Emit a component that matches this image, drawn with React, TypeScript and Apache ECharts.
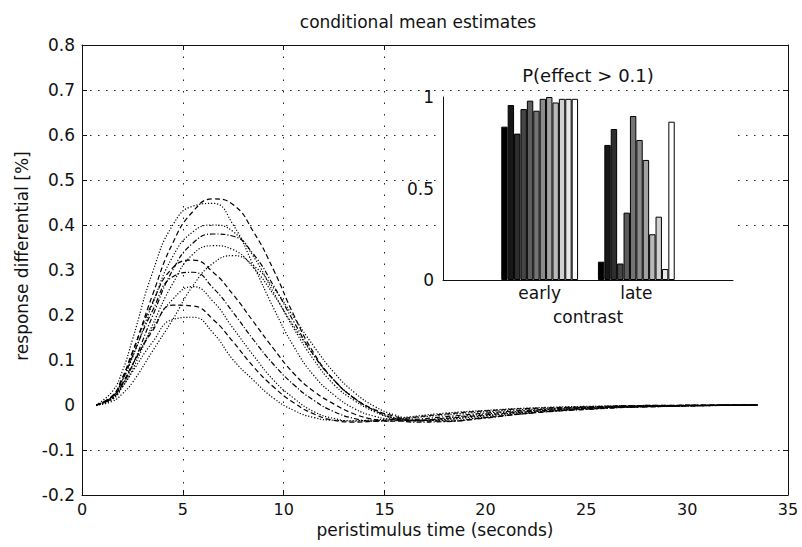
import { useEffect, useRef } from "react";
import * as echarts from "echarts";

// ---- main panel: conditional mean estimates (peristimulus time in seconds) ----
const timeSec = [0.7, 1.5, 2.0, 2.5, 3.5, 4.5, 5.5, 6.5, 7.5, 8.5, 9.5, 10.5, 11.5, 12.5, 13.5, 14.5, 15.5, 16.5, 18, 20, 22, 25, 28, 33.5];

const curve1 = [0, 0.03, 0.075, 0.145, 0.295, 0.4, 0.442, 0.448, 0.4, 0.31, 0.215, 0.13, 0.065, 0.022, -0.008, -0.025, -0.032, -0.034, -0.029, -0.02, -0.013, -0.006, -0.002, 0];
const curve2 = [0, 0.02, 0.06, 0.115, 0.245, 0.36, 0.43, 0.458, 0.445, 0.385, 0.3, 0.2, 0.115, 0.055, 0.015, -0.01, -0.025, -0.035, -0.036, -0.028, -0.019, -0.009, -0.004, 0];
const curve3 = [0, 0.018, 0.055, 0.105, 0.225, 0.33, 0.385, 0.4, 0.385, 0.33, 0.25, 0.17, 0.1, 0.045, 0.01, -0.015, -0.03, -0.035, -0.032, -0.024, -0.016, -0.008, -0.003, 0];
const curve4 = [0, 0.015, 0.045, 0.088, 0.198, 0.3, 0.36, 0.38, 0.375, 0.335, 0.265, 0.185, 0.11, 0.055, 0.015, -0.012, -0.03, -0.038, -0.037, -0.029, -0.019, -0.01, -0.004, 0];
const curve5 = [0, 0.012, 0.04, 0.078, 0.178, 0.27, 0.335, 0.354, 0.345, 0.305, 0.245, 0.175, 0.11, 0.055, 0.015, -0.012, -0.028, -0.034, -0.032, -0.024, -0.016, -0.008, -0.003, 0];
const curve6 = [0, 0.008, 0.025, 0.05, 0.12, 0.19, 0.265, 0.315, 0.332, 0.31, 0.26, 0.195, 0.13, 0.072, 0.028, -0.003, -0.022, -0.032, -0.034, -0.027, -0.018, -0.009, -0.004, 0];
const curve7 = [0, 0.02, 0.06, 0.118, 0.228, 0.305, 0.322, 0.295, 0.245, 0.185, 0.125, 0.07, 0.03, 0.002, -0.02, -0.032, -0.036, -0.035, -0.03, -0.022, -0.015, -0.007, -0.003, 0];
const curve8 = [0, 0.018, 0.055, 0.108, 0.21, 0.285, 0.295, 0.26, 0.205, 0.145, 0.09, 0.045, 0.01, -0.015, -0.03, -0.036, -0.035, -0.032, -0.026, -0.018, -0.012, -0.005, -0.002, 0];
const curve9 = [0, 0.015, 0.045, 0.088, 0.17, 0.235, 0.263, 0.23, 0.17, 0.11, 0.055, 0.015, -0.015, -0.03, -0.036, -0.035, -0.032, -0.028, -0.022, -0.015, -0.01, -0.005, -0.002, 0];
const curve10 = [0, 0.018, 0.048, 0.09, 0.165, 0.222, 0.22, 0.19, 0.14, 0.085, 0.04, 0.005, -0.02, -0.034, -0.038, -0.036, -0.032, -0.027, -0.02, -0.013, -0.008, -0.004, -0.001, 0];
const curve11 = [0, 0.015, 0.04, 0.074, 0.14, 0.19, 0.195, 0.16, 0.1, 0.055, 0.015, -0.012, -0.028, -0.034, -0.035, -0.033, -0.03, -0.025, -0.018, -0.012, -0.007, -0.003, -0.001, 0];

const curves = [curve1, curve2, curve3, curve4, curve5, curve6, curve7, curve8, curve9, curve10, curve11];
const curveDash = ["dotted", "dashed", "dotted", "dashdot", "dotted", "dotted", "dashed", "dashdot", "dotted", "dashed", "dotted"];

const gridLineY = [0.7, 0.6, 0.5, 0.4, -0.1];
const gridLineX = [5, 10, 15];

// ---- inset: P(effect > 0.1) ----
const insetCategories = ["", "early", "late", ""];
const earlyProb = [0.838, 0.956, 0.8, 0.934, 0.98, 0.925, 0.99, 1.0, 0.97, 0.99, 0.99, 0.99];
const lateProb = [0.1, 0.738, 0.825, 0.09, 0.368, 0.896, 0.765, 0.656, 0.25, 0.346, 0.06, 0.865];
const barGrays = ["#000000", "#171717", "#2e2e2e", "#464646", "#5d5d5d", "#747474", "#8b8b8b", "#a2a2a2", "#b9b9b9", "#d1d1d1", "#e8e8e8", "#ffffff"];

const FONT = "DejaVu Sans";
const INK = "#111111";

export default function App() {
  const ref = useRef<HTMLDivElement>(null);

  useEffect(() => {
    if (!ref.current) return;
    const chart = echarts.init(ref.current, null, { renderer: "svg" });

    const dashMap: Record<string, number[]> = {
      dotted: [1.2, 1.8],
      dashed: [5, 3],
      dashdot: [5, 2, 1.2, 2],
    };

    const lineSeries: any[] = curves.map((vals, i) => {
      const s: any = {
        type: "line",
        xAxisIndex: 0,
        yAxisIndex: 0,
        data: timeSec.map((t, j) => [t, vals[j]]),
        showSymbol: false,
        symbol: "none",
        smooth: 0.5,
        silent: true,
        z: 2,
        lineStyle: { color: "#000", width: 1.2, type: dashMap[curveDash[i]] },
      };
      if (i === 0) {
        s.markLine = {
          silent: true,
          z: 1,
          symbol: ["none", "none"],
          label: { show: false },
          data: [
            ...gridLineY.map((v) => ({ yAxis: v, lineStyle: { type: [1.5, 6.5], color: "#222", width: 1 } })),
            ...gridLineX.map((v) => ({ xAxis: v, lineStyle: { type: [1.5, 10], color: "#222", width: 1 } })),
          ],
        };
      }
      return s;
    });

    const barSeries: any[] = barGrays.map((c, i) => ({
      type: "bar",
      xAxisIndex: 2,
      yAxisIndex: 2,
      barWidth: 6.4,
      barGap: "0%",
      z: 10,
      silent: true,
      data: ["-", earlyProb[i], lateProb[i], "-"],
      itemStyle: { color: c, borderColor: "#000", borderWidth: 1 },
    }));

    const axisLine = { show: true, onZero: false, lineStyle: { color: INK, width: 1 } };

    chart.setOption({
      animation: false,
      backgroundColor: "#ffffff",
      textStyle: { fontFamily: FONT, color: INK },
      title: [
        {
          text: "conditional mean estimates",
          left: 418,
          top: 12,
          textAlign: "center",
          padding: 0,
          textStyle: { fontFamily: FONT, fontSize: 17, fontWeight: "normal", color: INK, lineHeight: 20 },
        },
        {
          text: "P(effect > 0.1)",
          left: 588,
          top: 65,
          textAlign: "center",
          padding: 0,
          textStyle: { fontFamily: FONT, fontSize: 18, fontWeight: "normal", color: INK, lineHeight: 20 },
        },
      ],
      grid: [
        { left: 82, top: 45, width: 706, height: 450, containLabel: false },
        { left: 443, top: 97, width: 290, height: 183, containLabel: false },
      ],
      xAxis: [
        {
          type: "value",
          gridIndex: 0,
          position: "bottom",
          min: 0,
          max: 35,
          interval: 5,
          axisLine,
          axisTick: { show: true, inside: true, length: 5, customValues: gridLineX, lineStyle: { color: INK } },
          axisLabel: { fontSize: 16, margin: 6, color: INK, fontFamily: FONT },
          splitLine: { show: false },
          name: "peristimulus time (seconds)",
          nameLocation: "middle",
          nameGap: 22,
          nameTextStyle: { fontSize: 17, color: INK, fontFamily: FONT },
        },
        {
          type: "value",
          gridIndex: 0,
          position: "top",
          min: 0,
          max: 35,
          interval: 5,
          axisLine,
          axisTick: { show: true, inside: true, length: 5, customValues: gridLineX, lineStyle: { color: INK } },
          axisLabel: { show: false },
          splitLine: { show: false },
        },
        {
          type: "category",
          gridIndex: 1,
          data: insetCategories,
          boundaryGap: false,
          z: 10,
          axisLine,
          axisTick: { show: false },
          axisLabel: { interval: 0, fontSize: 17, margin: 4, color: INK, fontFamily: FONT },
          splitLine: { show: false },
          name: "contrast",
          nameLocation: "middle",
          nameGap: 28,
          nameTextStyle: { fontSize: 17, color: INK, fontFamily: FONT },
        },
      ],
      yAxis: [
        {
          type: "value",
          gridIndex: 0,
          position: "left",
          min: -0.2,
          max: 0.8,
          interval: 0.1,
          axisLine,
          axisTick: { show: true, inside: true, length: 5, customValues: gridLineY, lineStyle: { color: INK } },
          axisLabel: { fontSize: 17, margin: 7, color: INK, fontFamily: FONT },
          splitLine: { show: false },
        },
        {
          type: "value",
          gridIndex: 0,
          position: "right",
          min: -0.2,
          max: 0.8,
          interval: 0.1,
          axisLine,
          axisTick: { show: true, inside: true, length: 5, customValues: gridLineY, lineStyle: { color: INK } },
          axisLabel: { show: false },
          splitLine: { show: false },
        },
        {
          type: "value",
          gridIndex: 1,
          min: 0,
          max: 1,
          interval: 0.5,
          z: 10,
          axisLine,
          axisTick: { show: false },
          axisLabel: { fontSize: 17, margin: 9, color: INK, fontFamily: FONT },
          splitLine: { show: false },
        },
      ],
      graphic: [
        {
          type: "rect",
          z: 6,
          silent: true,
          shape: { x: 437, y: 92, width: 299, height: 192 },
          style: { fill: "#ffffff" },
        },
        {
          type: "text",
          z: 10,
          silent: true,
          x: 22,
          y: 256,
          rotation: Math.PI / 2,
          style: {
            text: "response differential [%]",
            fontFamily: FONT,
            fontSize: 17,
            fill: INK,
            align: "center",
            verticalAlign: "middle",
          },
        },
      ],
      series: [...lineSeries, ...barSeries],
    });

    return () => {
      chart.dispose();
    };
  }, []);

  return (
    <div
      ref={ref}
      style={{ position: "fixed", left: 0, top: 0, width: 802, height: 547, background: "#ffffff" }}
    />
  );
}
